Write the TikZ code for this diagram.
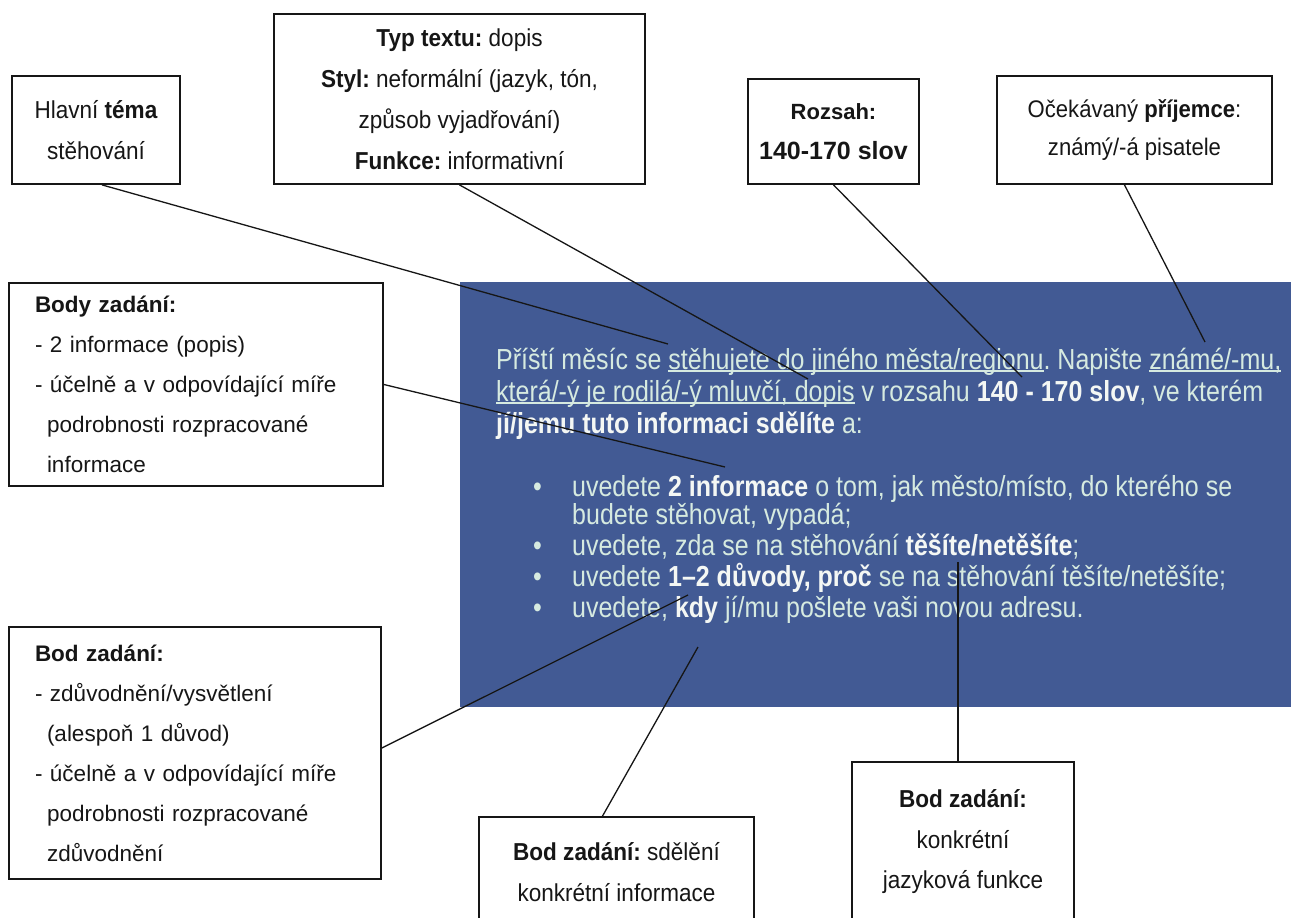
\documentclass[tikz,border=0pt]{standalone}
\usepackage{fontspec}
\setmainfont{Liberation Sans}
\newfontfamily\bluefont{Liberation Sans}[FakeStretch=0.862]
\newfontfamily\boxfont{Liberation Sans}[FakeStretch=0.92]
\definecolor{bluebg}{RGB}{66,90,148}
\definecolor{paletext}{RGB}{214,234,224}
\definecolor{boldtext}{RGB}{244,247,244}
\definecolor{ink}{RGB}{22,22,22}
\newcommand\myul[1]{\setbox0\hbox{#1}\rlap{\rule[-2.6pt]{\wd0}{1.3pt}}\box0\relax}
\newcommand\hb[1]{\textcolor{boldtext}{\bfseries #1}}
\frenchspacing
\tikzset{
  lbl/.style={draw=ink, line width=1.8pt, fill=white, inner sep=0pt, align=center, text=ink},
  boxtxt/.style={font=\boxfont\fontsize{24.5}{40.5}\selectfont},
  lefttxt/.style={align=left, inner xsep=26pt, inner ysep=0pt, font=\fontsize{22.5}{40}\selectfont},
  bt/.style={inner sep=0pt, anchor=base west, text=paletext, font=\bluefont\fontsize{29}{32}\selectfont},
  conn/.style={draw=ink, line width=1.3pt},
}
\begin{document}
\begin{tikzpicture}[x=1pt,y=-1pt]
\useasboundingbox (0,0) rectangle (1291,918);
\clip (0,0) rectangle (1291,918);
\fill[white] (0,0) rectangle (1291,918);

% blue task panel
\node[fill=bluebg, inner sep=0pt, minimum width=831pt, minimum height=425pt, anchor=north west] (task) at (460,282) {};

% task text
\node[bt] (p1) at (496,369) {Příští měsíc se \myul{stěhujete do jiného města/regionu}. Napište \myul{známé/-mu,}};
\node[bt] (p2) at (496,401) {\myul{která/-ý je rodilá/-ý mluvčí, dopis} v rozsahu \hb{140 - 170 slov}, ve kterém};
\node[bt] (p3) at (496,433) {\hb{jí/jemu tuto informaci sdělíte} a:};
\node[bt] (u1) at (533,496) {\makebox[39pt][l]{•}uvedete \hb{2 informace} o tom, jak město/místo, do kterého se};
\node[bt] (u1b) at (572,524) {budete stěhovat, vypadá;};
\node[bt] (u2) at (533,555) {\makebox[39pt][l]{•}uvedete, zda se na stěhování \hb{těšíte/netěšíte};};
\node[bt] (u3) at (533,586) {\makebox[39pt][l]{•}uvedete \hb{1–2 důvody, proč} se na stěhování těšíte/netěšíte;};
\node[bt] (u4) at (533,617) {\makebox[39pt][l]{•}uvedete, \hb{kdy} jí/mu pošlete vaši novou adresu.};

% callout boxes
\node[lbl, boxtxt, minimum width=168pt, minimum height=108pt] (hlavni) at (96,130)
  {Hlavní \textbf{téma}\\stěhování};
\node[lbl, boxtxt, font=\boxfont\fontsize{24.5}{41}\selectfont, minimum width=371pt, minimum height=170pt] (typ) at (459.5,99)
  {\textbf{Typ textu:} dopis\\\textbf{Styl:} neformální (jazyk, tón,\\způsob vyjadřování)\\\textbf{Funkce:} informativní};
\node[lbl, font=\fontsize{22}{40}\selectfont\bfseries, minimum width=171pt, minimum height=105pt] (rozsah) at (833.5,131.5)
  {Rozsah:\\{\fontsize{25}{40}\selectfont 140-170 slov}};
\node[lbl, boxtxt, font=\boxfont\fontsize{24}{38}\selectfont, minimum width=275pt, minimum height=108pt] (ocek) at (1134.5,130)
  {Očekávaný \textbf{příjemce}:\\známý/-á pisatele};
\node[lbl, lefttxt, text width=322pt, minimum height=203pt] (body) at (196,384.5)
  {\textbf{Body zadání:}\\
   - 2 informace (popis)\\
   - účelně a v odpovídající míře\\
   \hspace*{12pt}podrobnosti rozpracované\\
   \hspace*{12pt}informace};
\node[lbl, lefttxt, text width=320pt, minimum height=252pt] (bod) at (195,753)
  {\textbf{Bod zadání:}\\
   - zdůvodnění/vysvětlení\\
   \hspace*{12pt}(alespoň 1 důvod)\\
   - účelně a v odpovídající míře\\
   \hspace*{12pt}podrobnosti rozpracované\\
   \hspace*{12pt}zdůvodnění};
\node[lbl, boxtxt, minimum width=275pt, minimum height=110pt] (sdel) at (616.5,872)
  {\textbf{Bod zadání:} sdělění\\konkrétní informace};
\node[lbl, boxtxt, minimum width=222pt, minimum height=160pt] (konkr) at (963,842)
  {\textbf{Bod zadání:}\\konkrétní\\jazyková funkce};

% connector ends in the task text
\coordinate (e1) at (668,344);
\coordinate (e2) at (808,379);
\coordinate (e3) at (1022,377);
\coordinate (e4) at (1205,342);
\coordinate (e5) at (725,467);
\coordinate (e6) at (688,595);
\coordinate (e7) at (698,647);
\coordinate (e8) at (958,562);

\draw[conn] ([xshift=6pt]hlavni.south) -- (e1);
\draw[conn] (typ.south) -- (e2);
\draw[conn] (rozsah.south) -- (e3);
\draw[conn] ([xshift=-10pt]ocek.south) -- (e4);
\draw[conn] (body.east) -- (e5);
\draw[conn] ([yshift=5pt]bod.east) -- (e6);
\draw[conn] ([xshift=-14pt]sdel.north) -- (e7);
\draw[conn] ([xshift=-5pt]konkr.north) -- (e8);
\end{tikzpicture}
\end{document}
